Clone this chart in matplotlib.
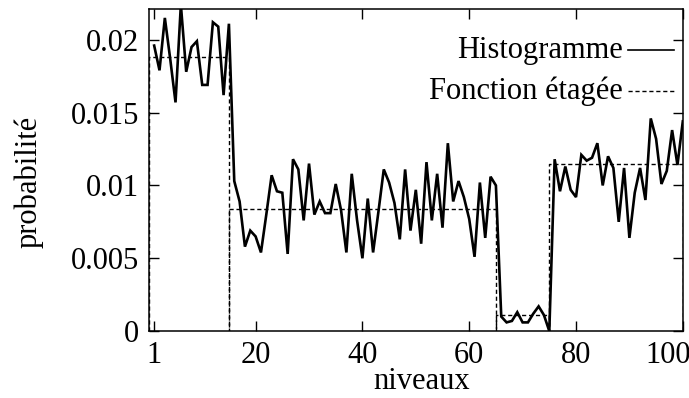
import matplotlib
matplotlib.use('Agg')
import matplotlib.pyplot as plt
import matplotlib.transforms as mtransforms
import numpy as np

# histogram value for each grey level 1..100
levels = np.arange(1, 101)
histogram = [
	0.0196, 0.0179, 0.0215, 0.0187, 0.0157, 0.0224, 0.0178, 0.0195, 0.0199, 0.0169,
	0.0169, 0.0212, 0.0209, 0.0162, 0.0211, 0.0103, 0.0089, 0.0058, 0.0069, 0.0065,
	0.0054, 0.0080, 0.0107, 0.0096, 0.0095, 0.0053, 0.0118, 0.0111, 0.0076, 0.0115,
	0.0080, 0.0089, 0.0081, 0.0081, 0.0101, 0.0083, 0.0054, 0.0108, 0.0076, 0.0050,
	0.0091, 0.0054, 0.0082, 0.0111, 0.0102, 0.0088, 0.0063, 0.0111, 0.0069, 0.0097,
	0.0060, 0.0116, 0.0076, 0.0108, 0.0071, 0.0129, 0.0089, 0.0103, 0.0092, 0.0077,
	0.0051, 0.0102, 0.0064, 0.0106, 0.0100, 0.0010, 0.0006, 0.0007, 0.0013, 0.0006,
	0.0006, 0.0012, 0.0017, 0.0011, 0.0000, 0.0118, 0.0096, 0.0113, 0.0097, 0.0092,
	0.0121, 0.0117, 0.0119, 0.0129, 0.0100, 0.0120, 0.0112, 0.0075, 0.0112, 0.0064,
	0.0095, 0.0112, 0.0090, 0.0146, 0.0132, 0.0101, 0.0110, 0.0138, 0.0114, 0.0144,
]

# step function: edges and level of each step
step_edges = [0, 15, 65, 75, 100]
step_values = [0.01885, 0.0084, 0.0011, 0.01147]

xticks = [1, 20, 40, 60, 80, 100]
yticks = [0, 0.005, 0.01, 0.015, 0.02]
ytick_labels = ['0', '0.005', '0.01', '0.015', '0.02']

plt.rcParams['font.family'] = ['Liberation Serif', 'DejaVu Serif']
plt.rcParams['font.size'] = 22

fig = plt.figure(figsize=(6.89, 3.98), dpi=100)
ax = fig.add_axes([0.216, 0.168, 0.775, 0.809])

# step function drawn as boxes (each side goes down to zero)
sx, sy = [], []
for i, v in enumerate(step_values):
	a, b = step_edges[i], step_edges[i + 1]
	sx += [a, a, b, b]
	sy += [0, v, v, 0]
ax.plot(sx, sy, color='black', lw=1.0, ls=(0, (3, 2)))

ax.plot(levels, histogram, color='black', lw=1.9, solid_joinstyle='miter')

ax.set_xlim(0, 100)
ax.set_ylim(0, 0.0221)
ax.set_xticks(xticks)
ax.set_yticks(yticks)
ax.set_yticklabels(ytick_labels)
ax.tick_params(direction='in', length=7, width=1.0, top=True, right=True, pad=7)
for sp in ax.spines.values():
	sp.set_linewidth(1.1)

# last x label is pushed left, like in the original picture
lab = ax.get_xticklabels()[-1]
lab.set_transform(lab.get_transform() + mtransforms.ScaledTranslation(-0.15, 0, fig.dpi_scale_trans))

ax.set_xlabel('niveaux')
ax.set_ylabel('probabilité')
ax.xaxis.set_label_coords(0.511, -0.111)
ax.yaxis.set_label_coords(-0.197, 0.464)

# gnuplot-like key: text then line sample
ax.text(0.887, 0.873, 'Histogramme', transform=ax.transAxes, ha='right', va='center')
ax.plot([0.897, 0.983], [0.873, 0.873], transform=ax.transAxes, color='black', lw=1.2)
ax.text(0.887, 0.745, 'Fonction étagée', transform=ax.transAxes, ha='right', va='center')
ax.plot([0.897, 0.983], [0.745, 0.745], transform=ax.transAxes, color='black', lw=1.0, ls=(0, (3, 2)))

fig.savefig('out.png', dpi=100)
plt.close()
